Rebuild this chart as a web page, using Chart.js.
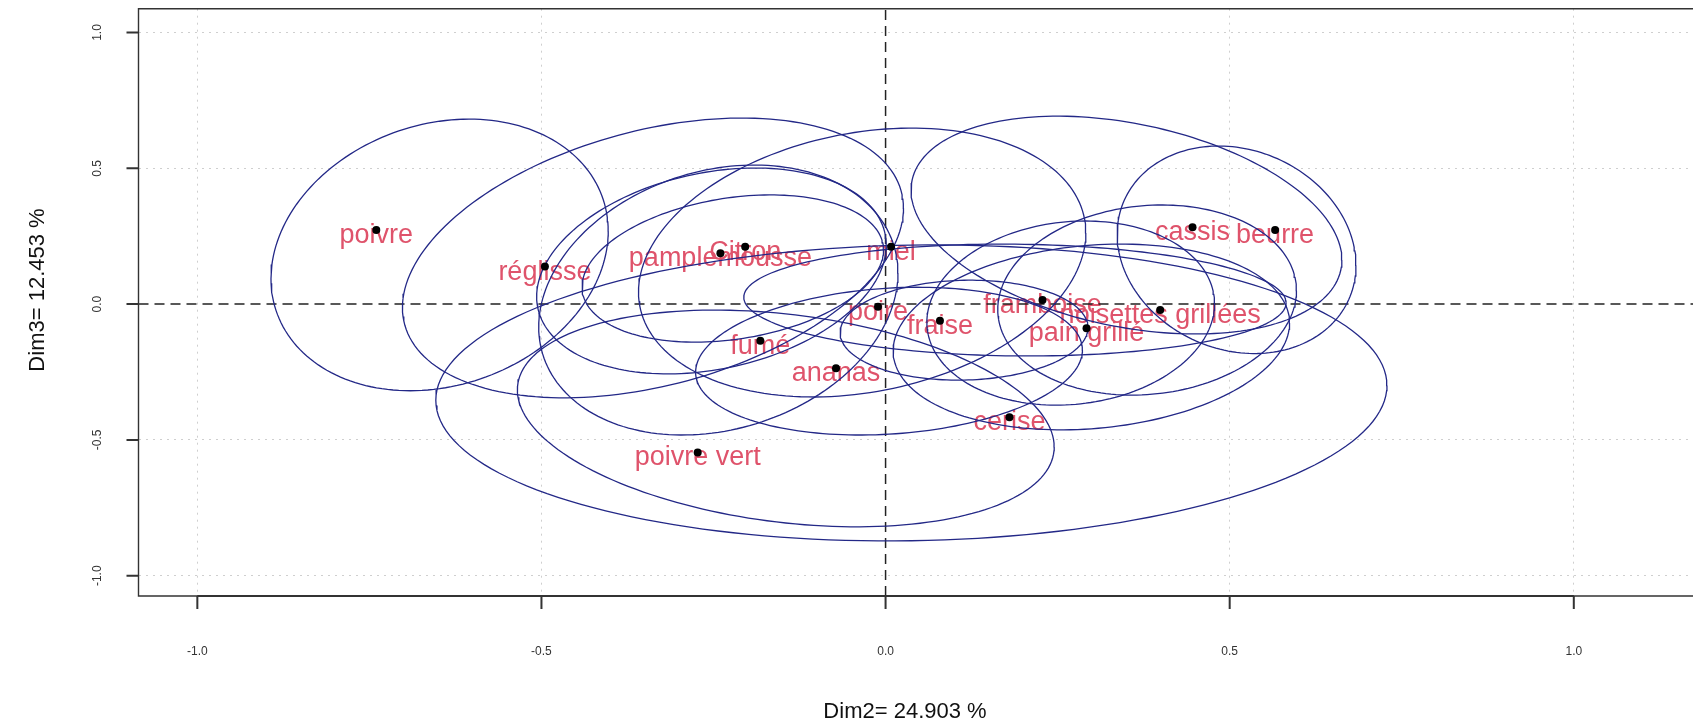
<!DOCTYPE html>
<html>
<head>
<meta charset="utf-8">
<script src="https://cdn.jsdelivr.net/npm/chart.js@4.4.1/dist/chart.umd.min.js"></script>
<style>
  html, body { margin: 0; padding: 0; background: #fff; }
  #wrap { width: 1697px; height: 727px; }
</style>
</head>
<body>
<div id="wrap"><canvas id="plot" width="1697" height="727"></canvas></div>
<script>
// produits : coordonnees sur Dim2 / Dim3
const products = ['poivre', 'réglisse', 'pamplemousse', 'Citron', 'miel', 'poire', 'fraise', 'framboise',
  'noisettes grillées', 'pain grillé', 'cassis', 'beurre', 'fumé', 'ananas', 'cerise', 'poivre vert'];
const dim2 = [-0.740, -0.495, -0.240, -0.204, 0.008, -0.011, 0.079, 0.228,
  0.399, 0.292, 0.446, 0.566, -0.182, -0.072, 0.180, -0.273];
const dim3 = [0.273, 0.138, 0.187, 0.211, 0.211, -0.010, -0.061, 0.015,
  -0.022, -0.089, 0.283, 0.273, -0.135, -0.236, -0.417, -0.546];

// ellipses de confiance : centre, demi-axes (x, y) et inclinaison
const ellCx = [-0.648, -0.338, -0.253, -0.243, -0.222, -0.034, 0.005, -0.145,
  0.0375, 0.510, 0.350, 0.269, 0.299, 0.380, 0.188, 0.114];
const ellCy = [0.181, 0.170, 0.122, 0.015, 0.131, 0.153, -0.210, -0.421,
  -0.327, 0.200, 0.291, -0.033, -0.121, 0.015, 0.015, -0.096];
const ellRx = [0.245, 0.364, 0.254, 0.261, 0.219, 0.325, 0.281, 0.390,
  0.691, 0.1735, 0.313, 0.209, 0.288, 0.217, 0.394, 0.180];
const ellRy = [0.500, 0.515, 0.379, 0.497, 0.271, 0.495, 0.272, 0.399,
  0.545, 0.382, 0.401, 0.339, 0.342, 0.350, 0.206, 0.184];
const ellTilt = [0.175, 0.355, 0.25, 0.2, 0.25, 0.22, 0.15, -0.263,
  0.05, -0.15, -0.32, 0.1, 0.15, 0.1, -0.05, 0.05];

const xTicks = [-1, -0.5, 0, 0.5, 1];
const yTicks = [-1, -0.5, 0, 0.5, 1];
const xRange = [-1.0855, 1.1732];
const yRange = [-1.0747, 1.0876];
const xTitle = 'Dim2= 24.903 %';
const yTitle = 'Dim3= 12.453 %';

const NAVY = 'rgb(35,40,135)';
const LABEL = '#DF536B';
const FONT = '"Liberation Sans", Arial, sans-serif';

function ellipsePoints(i) {
  const pts = [];
  const phi = Math.asin(ellTilt[i]);
  for (let k = 0; k <= 180; k++) {
    const t = (k / 180) * 2 * Math.PI;
    pts.push({
      x: ellCx[i] + ellRx[i] * Math.cos(t),
      y: ellCy[i] + ellRy[i] * Math.sin(t + phi)
    });
  }
  return pts;
}

const datasets = [];
// axes en pointilles a zero
datasets.push({
  data: [{ x: xRange[0], y: 0 }, { x: xRange[1], y: 0 }],
  showLine: true, pointRadius: 0, borderColor: '#222', borderWidth: 1.5,
  borderDash: [10, 6], order: 3
});
datasets.push({
  data: [{ x: 0, y: yRange[0] }, { x: 0, y: yRange[1] }],
  showLine: true, pointRadius: 0, borderColor: '#222', borderWidth: 1.5,
  borderDash: [10, 6], order: 3
});
ellCx.forEach((_, i) => {
  datasets.push({
    data: ellipsePoints(i),
    showLine: true, pointRadius: 0, borderColor: NAVY, borderWidth: 1.3,
    tension: 0, order: 2
  });
});
datasets.push({
  data: products.map((_, i) => ({ x: dim2[i], y: dim3[i] })),
  showLine: false, pointRadius: 4, pointBackgroundColor: '#000',
  pointBorderWidth: 0, order: 1
});

const rPlot = {
  id: 'rPlot',
  beforeDatasetsDraw(chart) {
    const { ctx, scales: { x, y } } = chart;
    ctx.save();
    ctx.fillStyle = LABEL;
    ctx.font = '27px ' + FONT;
    ctx.textAlign = 'center';
    ctx.textBaseline = 'alphabetic';
    products.forEach((p, i) => {
      ctx.fillText(p, x.getPixelForValue(dim2[i]), y.getPixelForValue(dim3[i]) + 13);
    });
    ctx.restore();
  },
  afterDraw(chart) {
    const { ctx, chartArea: a, scales: { x, y } } = chart;
    ctx.save();
    // cadre
    ctx.strokeStyle = '#333';
    ctx.lineWidth = 1.4;
    ctx.beginPath();
    ctx.moveTo(a.right, a.top);
    ctx.lineTo(a.left, a.top);
    ctx.lineTo(a.left, a.bottom);
    ctx.lineTo(a.right, a.bottom);
    ctx.stroke();

    // axe x
    ctx.lineWidth = 2;
    ctx.beginPath();
    ctx.moveTo(x.getPixelForValue(xTicks[0]), a.bottom);
    ctx.lineTo(x.getPixelForValue(xTicks[xTicks.length - 1]), a.bottom);
    xTicks.forEach(v => {
      const px = x.getPixelForValue(v);
      ctx.moveTo(px, a.bottom);
      ctx.lineTo(px, a.bottom + 13);
    });
    ctx.stroke();
    ctx.fillStyle = '#333';
    ctx.font = '12px ' + FONT;
    ctx.textAlign = 'center';
    ctx.textBaseline = 'middle';
    xTicks.forEach(v => {
      ctx.fillText(v.toFixed(1), x.getPixelForValue(v), 652);
    });

    // axe y
    ctx.lineWidth = 2;
    ctx.beginPath();
    yTicks.forEach(v => {
      const py = y.getPixelForValue(v);
      ctx.moveTo(a.left, py);
      ctx.lineTo(a.left - 12, py);
    });
    ctx.stroke();
    yTicks.forEach(v => {
      ctx.save();
      ctx.translate(98, y.getPixelForValue(v));
      ctx.rotate(-Math.PI / 2);
      ctx.fillText(v.toFixed(1), 0, 0);
      ctx.restore();
    });

    // titres
    ctx.fillStyle = '#111';
    ctx.font = '22px ' + FONT;
    ctx.fillText(xTitle, 905, 712);
    ctx.save();
    ctx.translate(38, 290);
    ctx.rotate(-Math.PI / 2);
    ctx.fillText(yTitle, 0, 0);
    ctx.restore();
    ctx.restore();
  }
};

const gridColor = c => (c.tick && c.tick.value === 0) ? 'rgba(0,0,0,0)' : '#cfcfcf';

new Chart(document.getElementById('plot'), {
  type: 'scatter',
  data: { datasets },
  options: {
    responsive: false,
    animation: false,
    devicePixelRatio: 1,
    layout: { padding: { left: 138.5, top: 8.7, right: 0, bottom: 131 } },
    plugins: { legend: { display: false }, tooltip: { enabled: false } },
    scales: {
      x: {
        type: 'linear', min: xRange[0], max: xRange[1],
        afterBuildTicks: s => { s.ticks = xTicks.map(v => ({ value: v })); },
        afterFit: s => { s.height = 0; },
        ticks: { display: false },
        grid: { color: gridColor, lineWidth: 1, drawTicks: false },
        border: { display: false, dash: [2, 5] }
      },
      y: {
        type: 'linear', min: yRange[0], max: yRange[1],
        afterBuildTicks: s => { s.ticks = yTicks.map(v => ({ value: v })); },
        afterFit: s => { s.width = 0; },
        ticks: { display: false },
        grid: { color: gridColor, lineWidth: 1, drawTicks: false },
        border: { display: false, dash: [2, 5] }
      }
    }
  },
  plugins: [rPlot]
});
</script>
</body>
</html>
